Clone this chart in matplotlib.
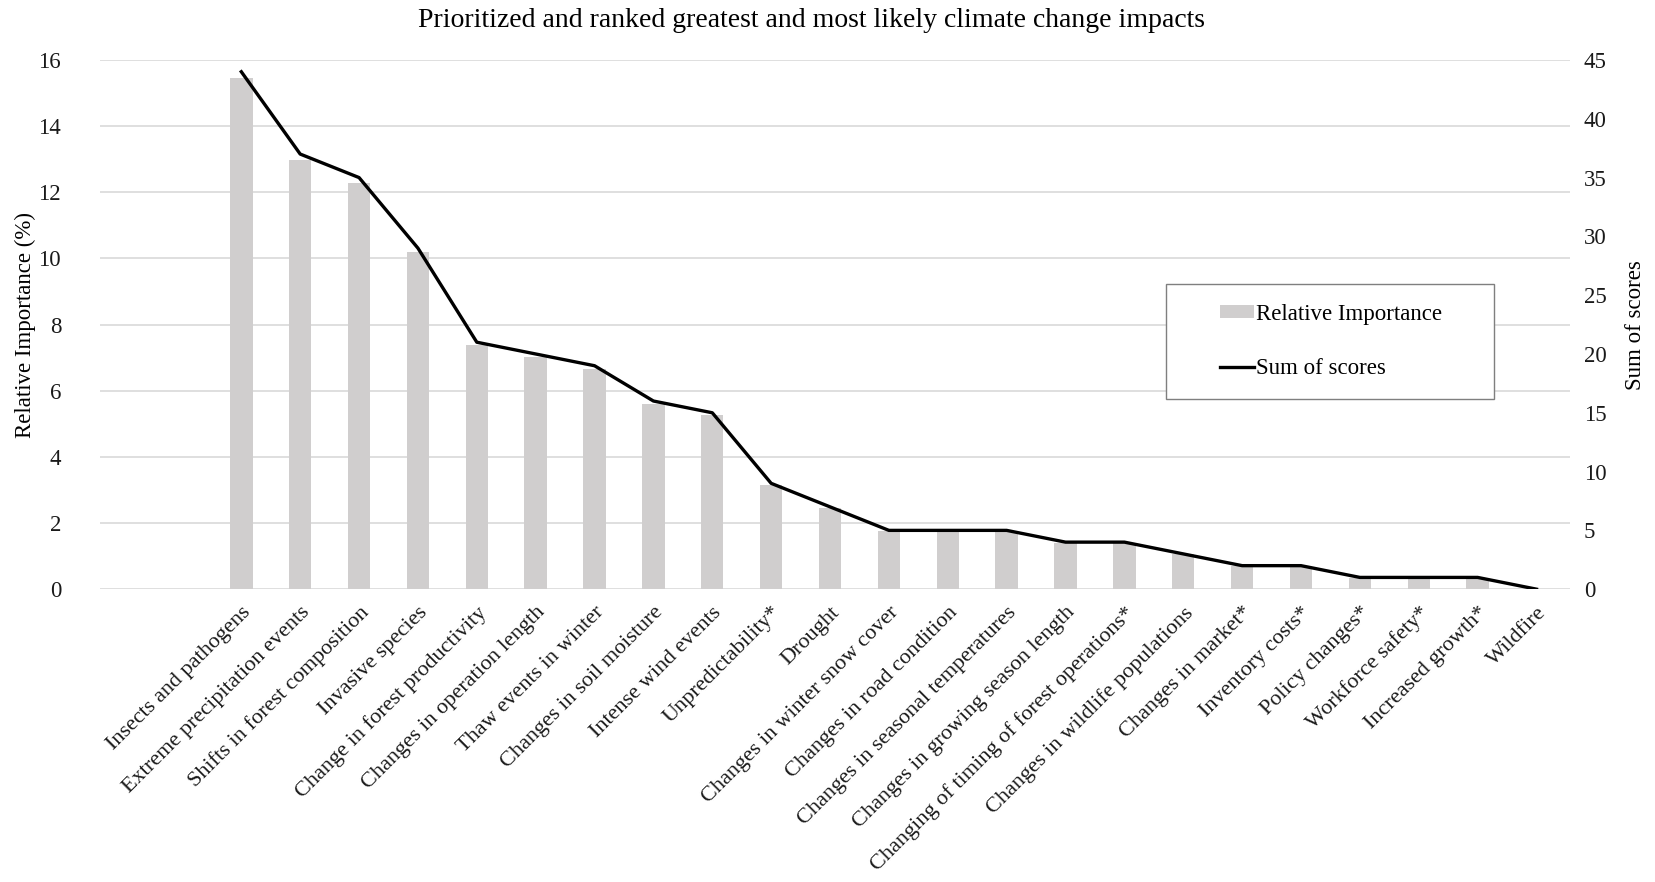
import matplotlib
matplotlib.use("Agg")
import matplotlib.pyplot as plt
from matplotlib.lines import Line2D
from matplotlib.patches import Patch, Rectangle

plt.rcParams['font.family'] = ['Liberation Serif', 'DejaVu Serif']

# Climate change impacts, ranked by sum of scores
impacts = ['Insects and pathogens', 'Extreme precipitation events',
           'Shifts in forest composition', 'Invasive species',
           'Change in forest productivity', 'Changes in operation length',
           'Thaw events in winter', 'Changes in soil moisture',
           'Intense wind events', 'Unpredictability*', 'Drought',
           'Changes in winter snow cover', 'Changes in road condition',
           'Changes in seasonal temperatures', 'Changes in growing season length',
           'Changing of timing of forest operations*',
           'Changes in wildlife populations', 'Changes in market*',
           'Inventory costs*', 'Policy changes*', 'Workforce safety*',
           'Increased growth*', 'Wildfire']
relative_importance = [15.44, 12.98, 12.28, 10.18, 7.37, 7.02, 6.67, 5.61, 5.26,
                       3.16, 2.46, 1.75, 1.75, 1.75, 1.40, 1.40, 1.05, 0.70,
                       0.70, 0.35, 0.35, 0.35, 0.00]
sum_of_scores = [44, 37, 35, 29, 21, 20, 19, 16, 15, 9, 7, 5, 5, 5, 4, 4, 3, 2,
                 2, 1, 1, 1, 0]

bar_color = '#d0cece'
grid_color = '#d9d9d9'
fs = 16.5

fig = plt.figure(figsize=(16.56, 8.82), dpi=100)
ax = fig.add_axes([0.0604, 0.332, 0.8877, 0.600])
ax2 = ax.twinx()

x = list(range(len(impacts)))
ax.bar(x, relative_importance, width=0.38, color=bar_color, zorder=2)
ax2.plot(x, sum_of_scores, color='black', lw=2.4, zorder=3)

ax.set_xlim(-2.4, len(impacts) - 0.43)
ax.set_ylim(0, 16)
ax.set_yticks(range(0, 17, 2))
ax2.set_ylim(0, 45)
ax2.set_yticks(range(0, 46, 5))

ax.yaxis.grid(True, color=grid_color, lw=1.2, zorder=0)
ax.set_axisbelow(True)
for a in (ax, ax2):
    for s in a.spines.values():
        s.set_visible(False)
    a.tick_params(length=0, labelsize=fs, colors='#1a1a1a')
ax.tick_params(axis='y', pad=28)
ax2.tick_params(axis='y', pad=10)

ax.set_xticks(x)
ax.set_xticklabels(impacts, rotation=45, ha='right', va='top',
                   rotation_mode='anchor', fontsize=16)
ax.tick_params(axis='x', pad=10)

ax.set_ylabel('Relative Importance (%)', fontsize=fs, labelpad=2)
ax2.set_ylabel('Sum of scores', fontsize=fs, labelpad=13)

fig.text(0.49, 0.977, 'Prioritized and ranked greatest and most likely climate change impacts',
         ha='center', va='center', fontsize=20)

# legend box with white fill, drawn wider than the legend content
ax2.add_patch(Rectangle((0.7252, 0.3596), 0.2231, 0.2174, transform=ax2.transAxes,
                        facecolor='white', edgecolor='#7f7f7f', lw=1.0,
                        zorder=4, clip_on=False))
handles = [Patch(facecolor=bar_color, edgecolor='none'),
           Line2D([0], [0], color='black', lw=2.4)]
leg = ax2.legend(handles, ['Relative Importance', 'Sum of scores'],
                 loc='center', bbox_to_anchor=(0.8374, 0.468), fontsize=fs,
                 frameon=False, handlelength=1.5, handleheight=0.5,
                 handletextpad=0.1, borderpad=0, labelspacing=1.45,
                 borderaxespad=0)
leg.set_zorder(5)

fig.savefig('out.png', dpi=100, facecolor='white')
